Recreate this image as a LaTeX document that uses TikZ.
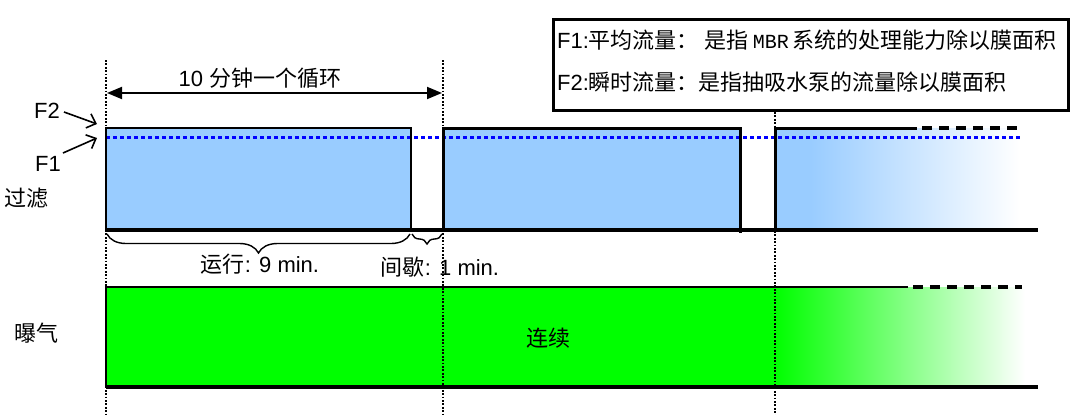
\documentclass[tikz,border=0pt]{standalone}
\usepackage{fontspec}
\setmainfont{Liberation Sans}
\newfontfamily\cjk{Noto Sans CJK SC}
\newfontfamily\mbrfont{Liberation Mono}
\usetikzlibrary{arrows.meta,decorations.pathreplacing}
\definecolor{fblue}{RGB}{153,204,255}
\definecolor{fgreen}{RGB}{0,255,0}
\definecolor{avgblue}{RGB}{0,0,255}
\newcommand\zh[1]{{\cjk #1}}
\newcommand\fs[1]{\fontsize{#1}{#1}\selectfont}
\begin{document}
\begin{tikzpicture}[x=1pt,y=-1pt,
  txt/.style={inner sep=0pt, font=\fs{22pt}},
  vdots/.style={line width=2pt, dash pattern=on 1.8pt off 1.6pt},
  ground/.style={line width=4pt},
  avgline/.style={avgblue, line width=3pt, dash pattern=on 4pt off 3pt},
  contdash/.style={line width=3.5pt, dash pattern=on 10pt off 7pt},
  thinedge/.style={line width=1.8pt},
  thickedge/.style={line width=3pt},
  pointer/.style={line width=1.6pt, -{Straight Barb[length=8pt,width=15pt]}},
  span/.style={line width=1.8pt, {Triangle[length=15pt,width=12pt]}-{Triangle[length=15pt,width=12pt]}},
  bracebig/.style={decorate, decoration={brace, mirror, amplitude=19pt}, line width=1.4pt},
  bracesmall/.style={decorate, decoration={brace, mirror, amplitude=10pt}, line width=1.4pt},
  legendbox/.style={draw, line width=3pt}
]
\useasboundingbox (0,0) rectangle (1080,415);

% filtration fills
\fill[fblue] (106,128) rectangle (411,230);
\fill[fblue] (443,128) rectangle (740,230);
\fill[fblue] (775,128) rectangle (810,230);
\shade[left color=fblue, right color=white] (810,128) rectangle (1020,230);

% aeration fills
\fill[fgreen] (106,287) rectangle (775,387);
\shade[left color=fgreen, right color=white] (775,287) rectangle (1025,387);

% average flux line
\draw[avgline] (106,137) -- (1020,137);

% filtration box edges
\draw[thinedge] (106,230) -- (106,128) -- (411,128) -- (411,230);
\draw[thickedge] (443,230) -- (443,128) -- (740,128) -- (740,233);
\draw[thickedge] (775,230) -- (775,128) -- (917,128);
\draw[contdash] (922,128) -- (1020,128);
\draw[ground] (106,230) -- (1038,230);

% aeration edges
\draw[thinedge] (106,387) -- (106,287) -- (908,287);
\draw[contdash] (913,287) -- (1022,287);
\draw[ground] (106,387) -- (1038,387);

% dotted time markers
\draw[vdots] (106,60) -- (106,415);
\draw[vdots] (443,60) -- (443,415);
\draw[vdots] (775,112) -- (775,415);

% legend
\node[legendbox, minimum width=515pt, minimum height=91pt, anchor=north west, inner sep=0pt] (legend) at (552,18) {};
\node[txt, anchor=west] (l1) at (557,40) {F1:\zh{平均流量：\hspace{6pt}是指}\hspace{4pt}{\mbrfont\fs{20pt}MBR}\hspace{4pt}\zh{系统的处理能力除以膜面积}};
\node[txt, anchor=west] (l2) at (557,82) {F2:\zh{瞬时流量：是指抽吸水泵的流量除以膜面积}};

% cycle arrow
\coordinate (cycl) at (107,93);
\coordinate (cycr) at (442,93);
\draw[span] (cycl) -- (cycr);
\node[txt] (cyc) at (260,78) {10 \zh{分钟一个循环}};

% F1 / F2 labels
\node[txt] (f2) at (47,111) {F2};
\node[txt] (f1) at (48,164) {F1};
\coordinate (f2tip) at (97,124);
\coordinate (f1tip) at (97,138);
\draw[pointer] (64,112) -- (f2tip);
\draw[pointer] (63,153) -- (f1tip);

% row labels
\node[txt] (filt) at (27,198) {\zh{过滤}};
\node[txt] (aer) at (37,333) {\zh{曝气}};
\node[txt] (cont) at (548,338) {\zh{连续}};

% braces
\coordinate (b1l) at (107,234);
\coordinate (b1r) at (410,234);
\coordinate (b2l) at (412,234);
\coordinate (b2r) at (442,234);
\draw[bracebig] (b1l) -- (b1r);
\draw[bracesmall] (b2l) -- (b2r);
\node[txt] (run) at (260,264) {\zh{运行}: 9 min.};
\node[txt] (pause) at (440,267) {\zh{间歇}: 1 min.};
\end{tikzpicture}
\end{document}
